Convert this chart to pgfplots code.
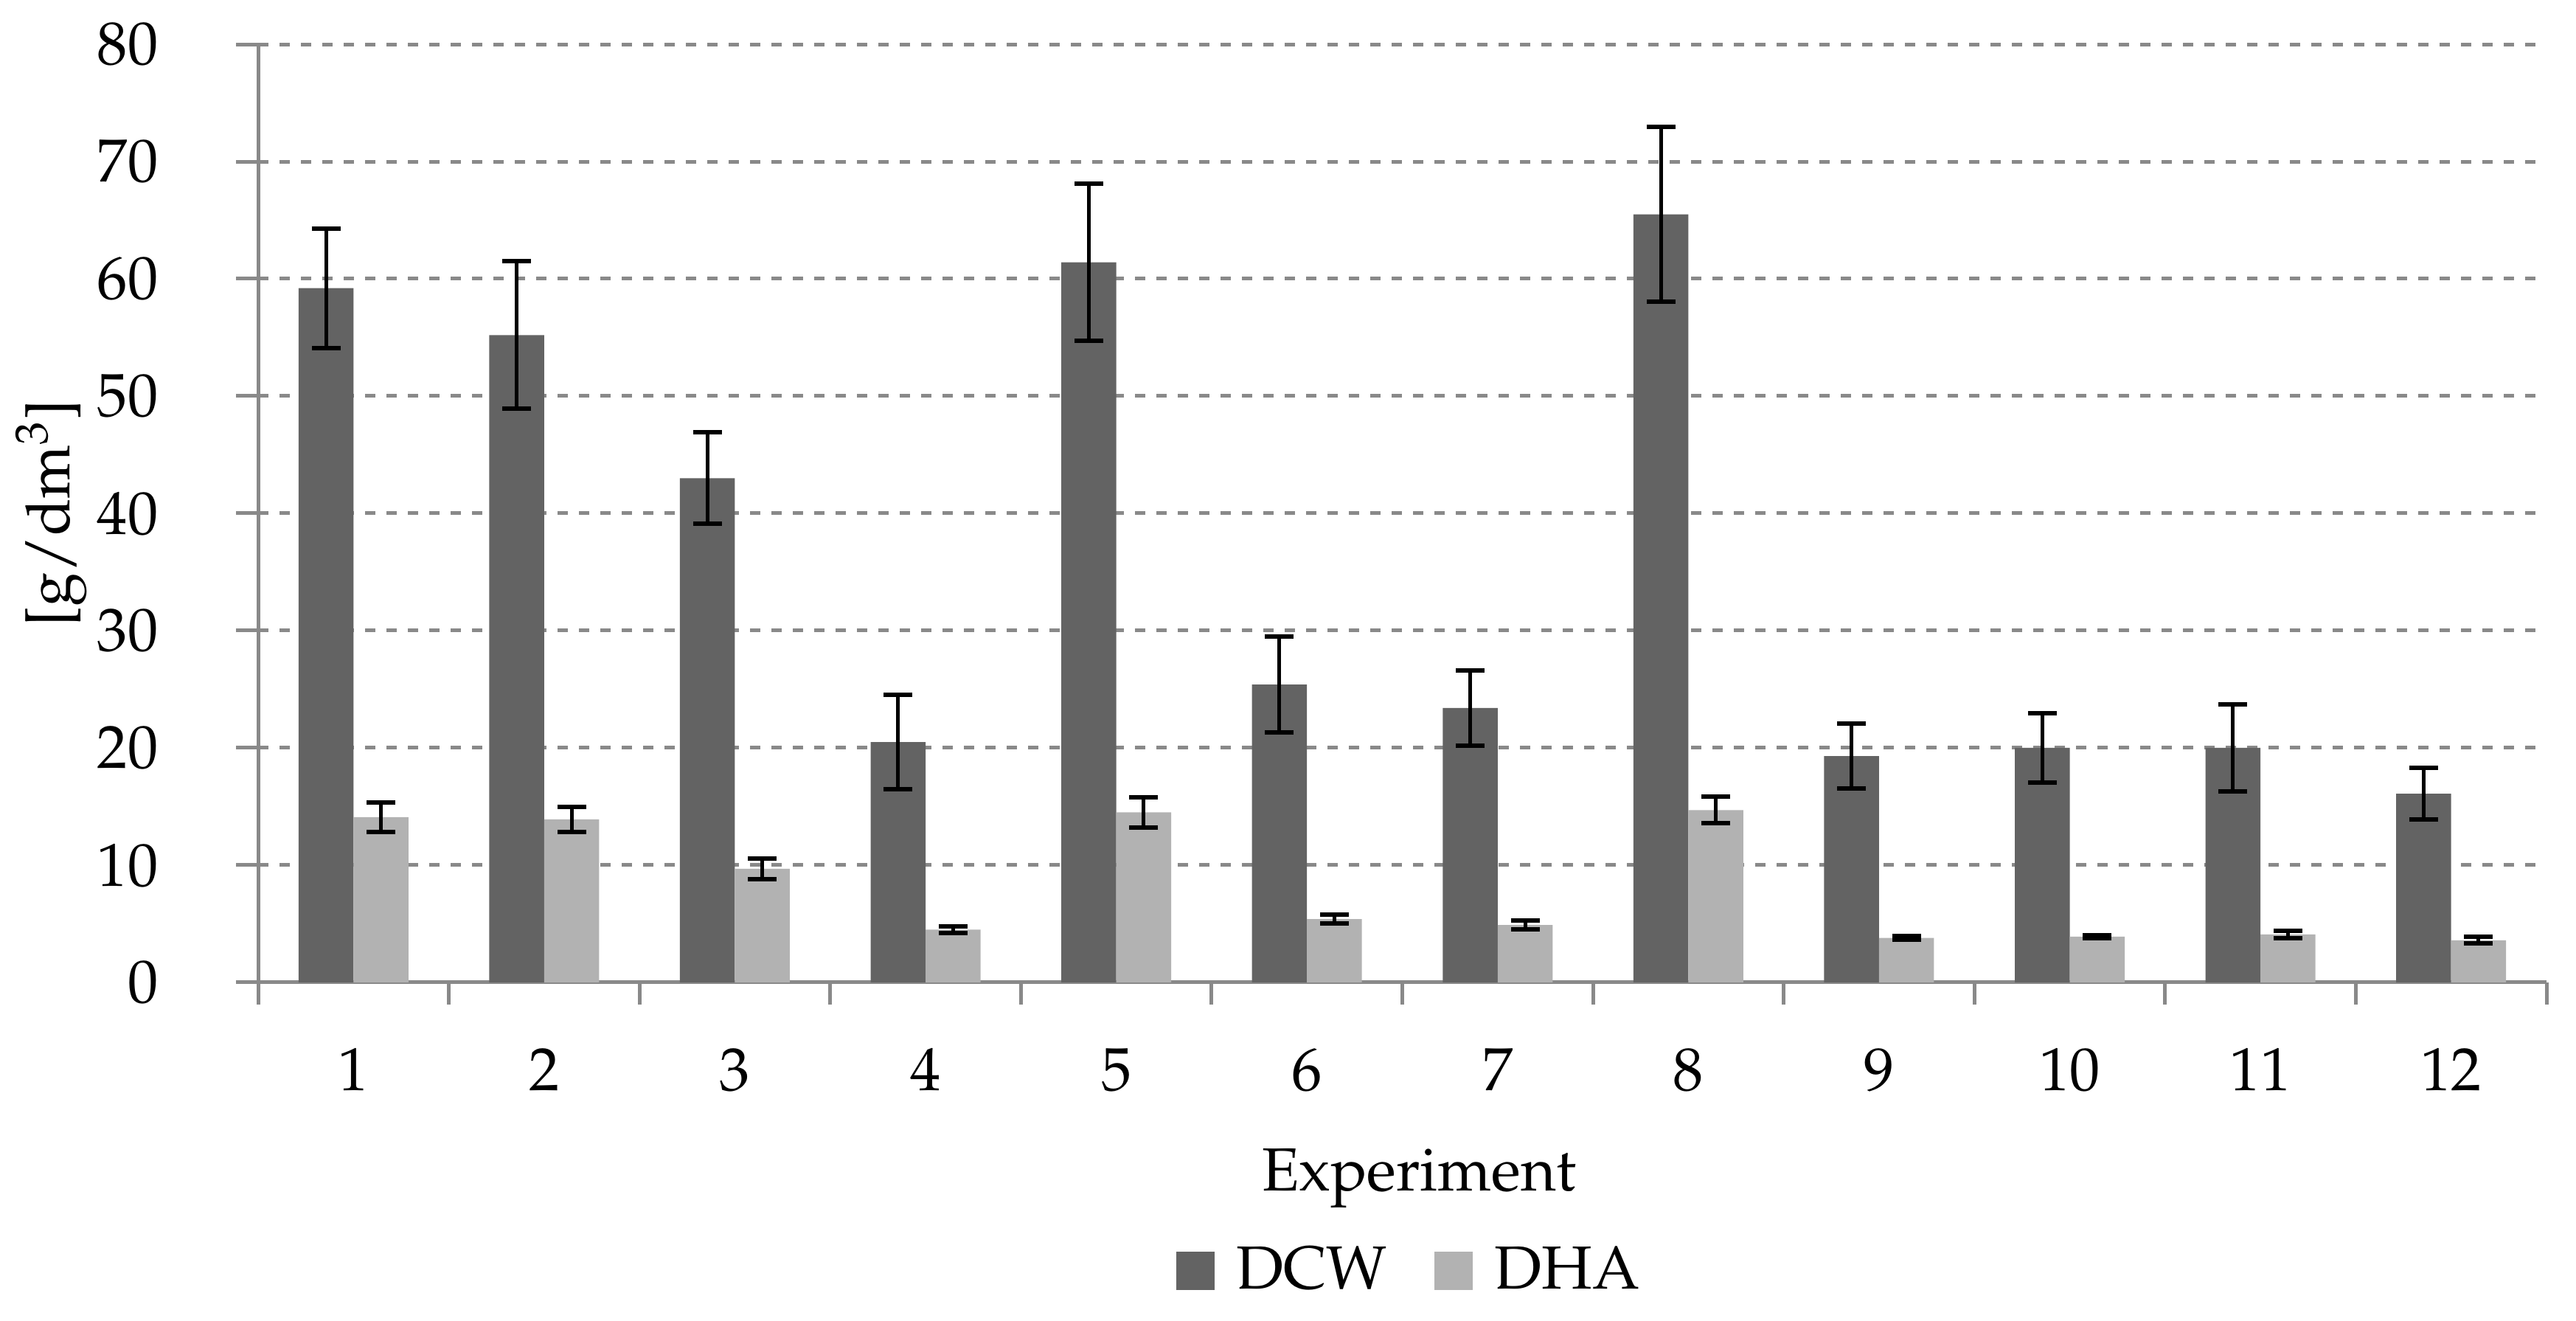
\documentclass[border=0pt]{standalone}
\usepackage[T1]{fontenc}
\usepackage{mathpazo}
\usepackage{pgfplots}
\pgfplotsset{compat=1.18}
\usepackage{pgfplotstable}
\definecolor{dcw}{RGB}{99,99,99}
\definecolor{dha}{RGB}{178,178,178}
\definecolor{axgray}{RGB}{137,137,137}
\pgfplotstableread{
x dcw dcwe dha dhae
1 59.2 5.10 14.1 1.26
2 55.2 6.30 13.9 1.07
3 43.0 3.90 9.7 0.87
4 20.5 4.05 4.5 0.31
5 61.4 6.70 14.5 1.27
6 25.4 4.10 5.4 0.39
7 23.4 3.20 4.9 0.40
8 65.5 7.45 14.7 1.12
9 19.3 2.77 3.8 0.15
10 20.0 2.96 3.9 0.12
11 20.0 3.70 4.1 0.33
12 16.1 2.20 3.6 0.29
}\datatable
\newcommand{\chartfont}{\fontsize{16.5}{20}\selectfont}
\begin{document}
\begin{tikzpicture}
\path[use as bounding box] (0,0) rectangle (698.6pt,358.2pt);
\begin{axis}[
  at={(70pt,91.8pt)}, anchor=south west,
  scale only axis, width=620.6pt, height=254.4pt,
  xmin=0.5, xmax=12.5, ymin=0, ymax=80,
  ybar=0pt, bar width=14.9pt,
  axis x line*=bottom, axis y line*=left,
  axis line style={axgray, line width=1pt},
  xtick={0.5,1.5,...,12.5}, xticklabels={},
  extra x ticks={1,2,3,4,5,6,7,8,9,10,11,12},
  extra x tick style={major tick length=0pt},
  ytick={0,10,...,80},
  tick align=outside, tick style={axgray, line width=1pt},
  major tick length=6pt,
  ymajorgrids, grid style={axgray, line width=1pt, dash pattern=on 2.7pt off 3.1pt},
  tick label style={font=\chartfont},
  xticklabel style={anchor=base, yshift=-29.4pt},
  yticklabel style={anchor=east, xshift=-17.6pt},
  xlabel={Experiment}, ylabel={[g/dm\textsuperscript{3}]},
  label style={font=\chartfont},
  xlabel style={at={(rel axis cs:0.5,0)}, anchor=base, yshift=-56.6pt, xshift=4.5pt},
  ylabel style={at={(rel axis cs:0,0.5)}, anchor=center, yshift=56.2pt},
  legend columns=2,
  legend style={at={(rel axis cs:0.5,0)}, anchor=north, yshift=-67.5pt, xshift=2.5pt,
    draw=none, font=\chartfont, column sep=4pt,
    /tikz/every even column/.append style={column sep=10.7pt}},
  legend image code/.code={\fill[#1] (0pt,-5.2pt) rectangle (10.4pt,5.2pt);},
  error bars/error bar style={black, line width=1pt},
  error bars/error mark options={black, line width=1.2pt, mark size=3.9pt, rotate=90},
]
\addplot[fill=dcw, draw=none, error bars/.cd, y dir=both, y explicit]
  table[x=x, y=dcw, y error=dcwe]{\datatable};
\addplot[fill=dha, draw=none, error bars/.cd, y dir=both, y explicit]
  table[x=x, y=dha, y error=dhae]{\datatable};
\legend{DCW,DHA}
\end{axis}
\end{tikzpicture}
\end{document}
